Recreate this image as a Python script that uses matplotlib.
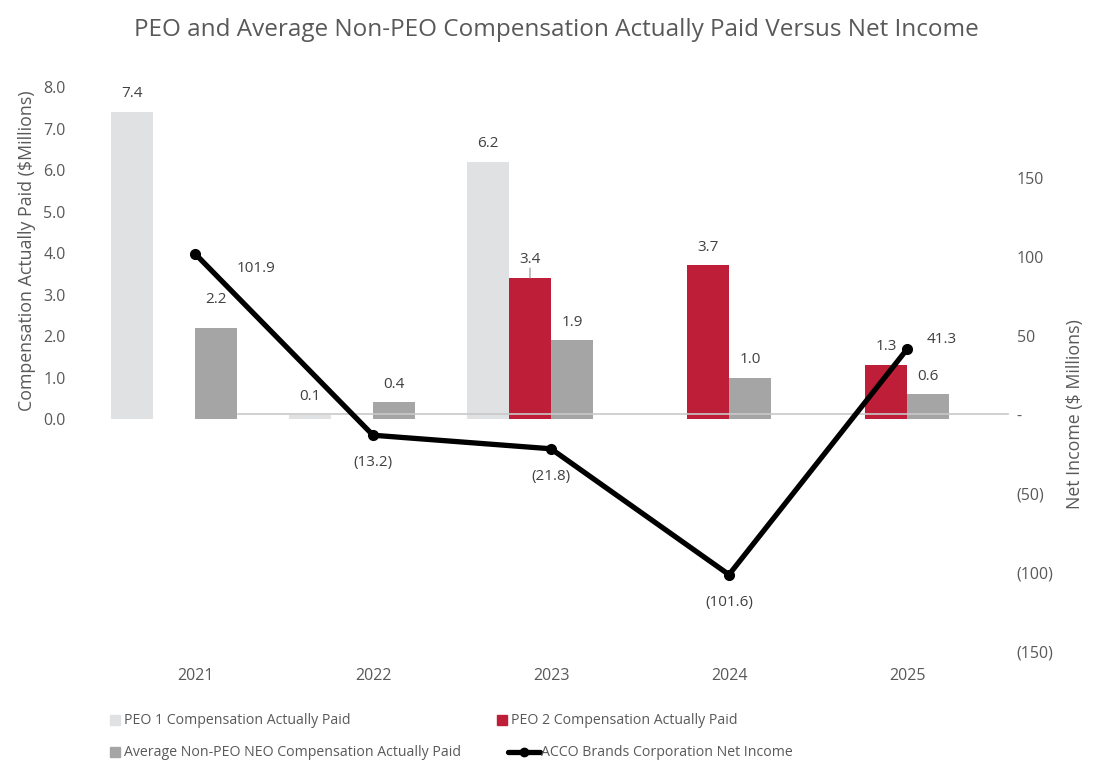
import matplotlib
matplotlib.use("Agg")
import matplotlib.pyplot as plt
import matplotlib.patches as mpatches
from matplotlib.lines import Line2D
import numpy as np

# ---------------------------------------------------------------------------
# Data
# ---------------------------------------------------------------------------
years = ["2021", "2022", "2023", "2024", "2025"]
peo1_cap = [7.4, 0.1, 6.2, np.nan, np.nan]
peo2_cap = [np.nan, np.nan, 3.4, 3.7, 1.3]
non_peo_cap = [2.2, 0.4, 1.9, 1.0, 0.6]
net_income = [101.9, -13.2, -21.8, -101.6, 41.3]

left_ticks = [0, 1, 2, 3, 4, 5, 6, 7, 8]
right_ticks = [-150, -100, -50, 0, 50, 100, 150]

C_PEO1 = "#E0E1E3"
C_PEO2 = "#BE1E37"
C_NON = "#A5A5A5"
C_TEXT = "#595959"
C_LABEL = "#404040"

FONT = ["Open Sans", "DejaVu Sans"]
plt.rcParams["font.family"] = FONT

W, H = 1108, 784
fig = plt.figure(figsize=(W / 100, H / 100), dpi=100)

# plot area in pixels
left_px, right_px, top_px, bot_px = 106, 996, 87, 651
ax = fig.add_axes([left_px / W, 1 - bot_px / H, (right_px - left_px) / W, (bot_px - top_px) / H])
ax2 = ax.twinx()

x = np.arange(len(years))
w = 0.236

# left axis: 0 at y=419.5, 41.5 px per unit
ax.set_ylim(8 - (bot_px - top_px) / 41.5, 8.0)
ax.set_xlim(-0.5, 4.5)
# right axis: 0 at y=415, 1.58 px per unit
ax2.set_ylim(-149.4, -149.4 + (bot_px - top_px) / 1.58)

bars1 = ax.bar(x - 1.5 * w, peo1_cap, width=w, color=C_PEO1, zorder=2)
bars2 = ax.bar(x - 0.5 * w, peo2_cap, width=w, color=C_PEO2, zorder=2)
bars3 = ax.bar(x + 0.5 * w, non_peo_cap, width=w, color=C_NON, zorder=2)

for bars, vals in [(bars1, peo1_cap), (bars2, peo2_cap), (bars3, non_peo_cap)]:
    for b, v in zip(bars, vals):
        if np.isnan(v):
            continue
        dy = 13
        if bars is bars3 and v == 2.2:
            dy = 20
        ax.annotate(f"{v:.1f}", (b.get_x() + b.get_width() / 2, v),
                    xytext=(0, dy), textcoords="offset points",
                    ha="center", va="center", fontsize=11, color=C_LABEL)

# leader line for the 2023 PEO 2 label
ax.annotate("", (x[2] - 0.5 * w, peo2_cap[2]), xytext=(0, 7), textcoords="offset points",
            arrowprops=dict(arrowstyle="-", color="#A6A6A6", lw=1, shrinkA=0, shrinkB=0))

# zero line of the net income axis
ax2.plot([0.24, 4.57], [0, 0], color="#C8C8C8", lw=1.2, zorder=1, clip_on=False)

ax2.plot(x, net_income, color="black", lw=3.8, marker="o", markersize=7,
         zorder=5, solid_capstyle="round")

offsets = [(44, -11), (0, -20), (0, -20), (0, -20), (25, 7)]
for xi, v, off in zip(x, net_income, offsets):
    txt = f"{v:.1f}" if v >= 0 else f"({abs(v):.1f})"
    ax2.annotate(txt, (xi, v), xytext=off, textcoords="offset points",
                 ha="center", va="center", fontsize=11, color=C_LABEL)

# axes styling
for a in (ax, ax2):
    for s in a.spines.values():
        s.set_visible(False)
    a.tick_params(length=0)

ax.set_yticks(left_ticks)
ax.set_yticklabels([f"{t:.1f}" for t in left_ticks], fontsize=11.5, color=C_TEXT)
ax.tick_params(axis="y", pad=29)
ax.set_xticks(x)
ax.set_xticklabels(years, fontsize=11.5, color=C_TEXT)
ax.tick_params(axis="x", pad=12)

def fmt_right(v):
    if v == 0:
        return "-"
    return f"{v}" if v > 0 else f"({abs(v)})"

ax2.set_yticks(right_ticks)
ax2.set_yticklabels([fmt_right(t) for t in right_ticks], fontsize=11.5, color=C_TEXT)
ax2.tick_params(axis="y", pad=15)

fig.text(27 / W, 1 - 251 / H, "Compensation Actually Paid ($Millions)", rotation=90,
         ha="center", va="center", fontsize=12.8, color=C_TEXT)
fig.text(1075 / W, 1 - 414 / H, "Net Income ($ Millions)", rotation=90,
         ha="center", va="center", fontsize=12.8, color=C_TEXT)

fig.text(556 / W, 1 - 30 / H, "PEO and Average Non-PEO Compensation Actually Paid Versus Net Income",
         ha="center", va="center", fontsize=17.5, color=C_TEXT)

# legend (manual layout)
def legend_patch(px, py, color):
    fig.patches.append(mpatches.Rectangle((px / W, 1 - (py + 5) / H), 10 / W, 10 / H,
                                          transform=fig.transFigure, color=color))

LEG_FS = 10.2
legend_patch(110, 720, C_PEO1)
fig.text(124 / W, 1 - 720 / H, "PEO 1 Compensation Actually Paid", ha="left", va="center",
         fontsize=LEG_FS, color=C_TEXT)
legend_patch(497, 720, C_PEO2)
fig.text(511 / W, 1 - 720 / H, "PEO 2 Compensation Actually Paid", ha="left", va="center",
         fontsize=LEG_FS, color=C_TEXT)
legend_patch(110, 752, C_NON)
fig.text(124 / W, 1 - 752 / H, "Average Non-PEO NEO Compensation Actually Paid", ha="left", va="center",
         fontsize=LEG_FS, color=C_TEXT)
fig.lines.append(Line2D([508 / W, 540 / W], [1 - 752 / H, 1 - 752 / H], transform=fig.transFigure,
                        color="black", lw=3.8, solid_capstyle="round"))
fig.lines.append(Line2D([524 / W], [1 - 752 / H], transform=fig.transFigure,
                        color="black", marker="o", markersize=6, linestyle="none"))
fig.text(541 / W, 1 - 752 / H, "ACCO Brands Corporation Net Income", ha="left", va="center",
         fontsize=LEG_FS, color=C_TEXT)

fig.savefig("out.png", dpi=100)
